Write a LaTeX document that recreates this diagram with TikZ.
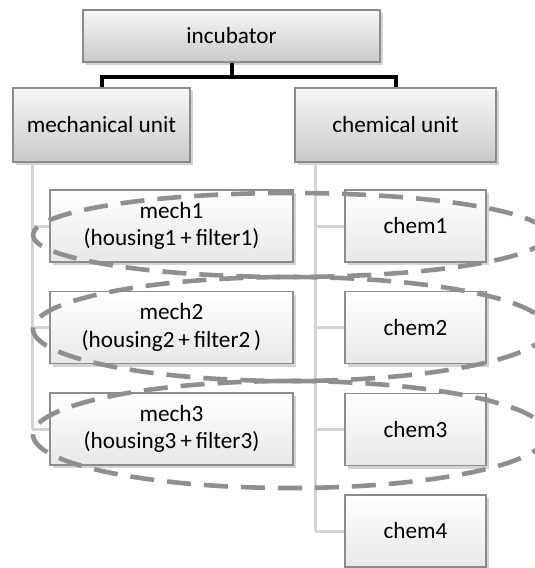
\documentclass[tikz,border=0pt]{standalone}
\usepackage{fontspec}
\setmainfont{Carlito}
\usetikzlibrary{shadows}
\definecolor{boxborder}{HTML}{8C8C8C}
\definecolor{branchgray}{HTML}{D4D4D4}
\definecolor{ringgray}{HTML}{8F8F8F}

\begin{document}
\begin{tikzpicture}[x=0.5pt,y=-0.5pt,
    box/.style={draw=boxborder, line width=0.6pt, text=black, align=center, inner sep=0pt,
        font=\fontsize{11.6}{13.6}\selectfont,
        drop shadow={opacity=0.35, shadow xshift=1.5pt, shadow yshift=-1.5pt}},
    unit/.style={box, top color=gray!6, bottom color=gray!42},
    part/.style={box, top color=white, bottom color=gray!18},
    trunk/.style={line width=2pt, black},
    branch/.style={line width=1.5pt, branchgray},
    ring/.style={line width=2.3pt, ringgray, dash pattern=on 12pt off 6.5pt}]
        \clip (0,0) rectangle (535,568);
        % top level
        \node[unit, minimum width=148.5pt, minimum height=26pt] (inc) at (231.5,36) {incubator};
        \node[unit, minimum width=88.5pt, minimum height=37pt] (mech) at (101.5,125) {mechanical unit};
        \node[unit, minimum width=100.5pt, minimum height=37pt] (chem) at (395.5,125) {chemical unit};
        \coordinate (fork) at (231.5,77);
        \draw[trunk] (inc.south) -- (fork);
        \draw[trunk] (fork) -| (mech.north);
        \draw[trunk] (fork) -| (chem.north);

        % tree lines
        \coordinate (mtop) at ([xshift=10pt]mech.south west);
        \coordinate (ctop) at ([xshift=10.5pt]chem.south west);
        \coordinate (mend) at (mtop |- 0,429);
        \coordinate (cend) at (ctop |- 0,531);
        \draw[branch] (mtop) -- (mend);
        \draw[branch] (ctop) -- (cend);

        % mechanical parts
        \node[part, minimum width=121.5pt, minimum height=36pt] (m1) at (171.5,226) {mech1\\(housing1\,+\,filter1)};
        \node[part, minimum width=121.5pt, minimum height=36pt] (m2) at (171.5,327.5) {mech2\\(housing2\,+\,filter2\,)};
        \node[part, minimum width=121.5pt, minimum height=36pt] (m3) at (171.5,429) {mech3\\(housing3\,+\,filter3)};
        \foreach \i in {1,2,3}
            \draw[branch] (mtop |- m\i.west) -- (m\i.west);
        % chemical parts
        \foreach \i/\y in {1/226,2/327.5,3/429.5,4/531}{
            \node[part, minimum width=70.5pt, minimum height=36pt] (c\i) at (415.5,\y) {chem\i};
            \draw[branch] (ctop |- c\i.west) -- (c\i.west);
        }

        % pairs
        \foreach \y/\r in {235/42,329/52,434.5/53.5}
            \draw[ring] (290,\y) ellipse [x radius=257, y radius=\r];
\end{tikzpicture}
\end{document}
